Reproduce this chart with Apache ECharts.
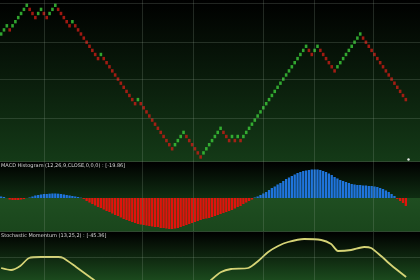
<!DOCTYPE html>
<html>
<head>
<meta charset="utf-8">
<script src="https://cdn.jsdelivr.net/npm/echarts@6/dist/echarts.min.js"></script>
<style>
  html, body { margin: 0; padding: 0; background: #000; }
  #chart_renko { width: 420px; height: 280px; }
</style>
</head>
<body>
<div id="chart_renko"></div>
<script>
  // renko brick levels, one per brick
  let brickLevels = [
    30, 31, 32, 31, 32, 33, 34, 35, 36, 37,
    36, 35, 34, 35, 36, 35, 34, 35, 36, 37,
    36, 35, 34, 33, 32, 33, 32, 31, 30, 29,
    28, 27, 26, 25, 24, 25, 24, 23, 22, 21,
    20, 19, 18, 17, 16, 15, 14, 13, 14, 13,
    12, 11, 10, 9, 8, 7, 6, 5, 4, 3,
    2, 3, 4, 5, 6, 5, 4, 3, 2, 1,
    0, 1, 2, 3, 4, 5, 6, 7, 6, 5,
    4, 5, 4, 5, 4, 5, 6, 7, 8, 9,
    10, 11, 12, 13, 14, 15, 16, 17, 18, 19,
    20, 21, 22, 23, 24, 25, 26, 27, 26, 25,
    26, 27, 26, 25, 24, 23, 22, 21, 22, 23,
    24, 25, 26, 27, 28, 29, 30, 29, 28, 27,
    26, 25, 24, 23, 22, 21, 20, 19, 18, 17,
    16, 15, 14
  ]

  // MACD histogram, one bar per brick
  let macdHist = [
    3.8, 2.5, 0, -3.8, -5, -5, -5, -3.8, -2.5, 0,
    1.3, 3.8, 6.3, 7.5, 8.8, 10, 10, 10.8, 11.3, 11.3,
    10.8, 10, 8.8, 7.5, 6.3, 5, 3.8, 2.5, 0.8, -2.5,
    -7.5, -11.3, -15, -18.8, -22.5, -25, -28.8, -32.5, -35, -38.8,
    -42.5, -45, -48.8, -52.5, -55, -57.5, -60, -62.5, -65, -66.3,
    -67.5, -68.8, -70, -71.3, -72.5, -72.5, -75, -75, -76.3, -77.5,
    -77.5, -76.3, -75, -72.5, -70, -67.5, -65, -62.5, -60, -57.5,
    -55, -52.5, -51.3, -50, -47.5, -45, -42.5, -40, -37.5, -35,
    -32.5, -30, -26.3, -22.5, -20, -15, -11.3, -7.5, -3.8, 1.3,
    3.8, 7.5, 11.3, 15, 20, 25, 28.8, 33.8, 37.5, 42.5,
    47.5, 51.3, 55, 58.8, 62.5, 65, 67.5, 68.8, 70, 71.3,
    71.3, 71.3, 70, 67.5, 65, 61.3, 57.5, 52.5, 48.8, 45,
    42.5, 40, 37.5, 35, 33.8, 32.5, 32.5, 31.3, 31.3, 30,
    30, 28.8, 27.5, 25, 22.5, 18.8, 15, 10, 5, -2.5,
    -7.5, -12.5, -19.9
  ]

  // stochastic momentum, sampled along the brick index
  let stochIdx = [0, 3.5, 6.7, 9.8, 14, 20, 21.8, 26.3, 31.6, 38.6, 52.6, 66.7, 73.7, 77.2, 80.7,
    86.7, 90.2, 93.7, 97.2, 100.7, 106.3, 112.3, 115.8, 118.2, 122.8, 127.4, 129.8, 133.3, 136.8, 142.1]
  let stochVal = [16.8, 14.4, 19.2, 28.8, 30, 30, 28.8, 18, 4.8, -12, -33.6, -21.6, 2.4, 12, 15.6,
    16.8, 25.2, 36, 43.2, 48, 51.6, 50.4, 45.6, 37.2, 38.4, 42, 40.8, 31.2, 20.4, 6]

  // grid lines
  let vGrid = [15.1, 49.5, 67.4, 91.9, 109.8, 130.5]
  let hGridRenko = [9.5, 19, 28, 37.6]

  let macdTitle = 'MACD Histogram (12,26,9,CLOSE,0,0,0) : [-19.86]'
  let stochTitle = 'Stochastic Momentum (13,25,2) : [-45.36]'

  let upBricks = []
  let downBricks = []
  brickLevels.forEach((lv, i) => {
    if (i === 0 || lv > brickLevels[i - 1]) upBricks.push([i, lv])
    else downBricks.push([i, lv])
  })

  let gridStyle = { color: 'rgba(150,170,150,0.22)', width: 1, type: 'solid' }
  let vLines = vGrid.map((v) => { return { xAxis: v } })

  function gradient (top, bottom) {
    return new echarts.graphic.LinearGradient(0, 0, 0, 1, [
      { offset: 0, color: top },
      { offset: 1, color: bottom }
    ])
  }

  let chart = echarts.init(document.getElementById('chart_renko'))
  let xRange = { min: -0.4, max: 146.97 }

  let options = {
    animation: false,
    backgroundColor: '#000',
    graphic: [
      { type: 'rect', z: -10, shape: { x: 0, y: 0, width: 420, height: 162 }, style: { fill: gradient('#000000', '#143a17') } },
      { type: 'rect', z: -10, shape: { x: 0, y: 162, width: 420, height: 36 }, style: { fill: gradient('#000000', '#0f2e12') } },
      { type: 'rect', z: -10, shape: { x: 0, y: 198, width: 420, height: 33 }, style: { fill: gradient('#1f4e21', '#1a461c') } },
      { type: 'rect', z: -10, shape: { x: 0, y: 232, width: 420, height: 48 }, style: { fill: gradient('#000000', '#1b4a1d') } },
      { type: 'line', z: -5, shape: { x1: 0, y1: 161.5, x2: 420, y2: 161.5 }, style: { stroke: '#2f4a30', lineWidth: 1 } },
      { type: 'line', z: -5, shape: { x1: 0, y1: 231.5, x2: 420, y2: 231.5 }, style: { stroke: '#2f4a30', lineWidth: 1 } },
      { type: 'circle', z: 20, shape: { cx: 408.5, cy: 159.5, r: 1.2 }, style: { fill: '#e8e8e8' } }
    ],
    title: [
      { text: macdTitle, left: 1, top: 163, padding: 0, textStyle: { color: '#d8d8d8', fontSize: 5, fontWeight: 'normal', fontFamily: 'DejaVu Sans' } },
      { text: stochTitle, left: 1, top: 233, padding: 0, textStyle: { color: '#d8d8d8', fontSize: 5, fontWeight: 'normal', fontFamily: 'DejaVu Sans' } }
    ],
    grid: [
      { left: 0, top: 0, width: 420, height: 162 },
      { left: 0, top: 162, width: 420, height: 69 },
      { left: 0, top: 232, width: 420, height: 48 }
    ],
    xAxis: [0, 1, 2].map((g) => {
      return { type: 'value', gridIndex: g, min: xRange.min, max: xRange.max, show: false }
    }),
    yAxis: [
      { type: 'value', gridIndex: 0, min: -1.22, max: 38.29, show: false },
      { type: 'value', gridIndex: 1, min: -82.5, max: 90, show: false },
      { type: 'value', gridIndex: 2, min: 2.4, max: 60, show: false }
    ],
    series: [
      {
        name: 'up',
        type: 'scatter',
        xAxisIndex: 0,
        yAxisIndex: 0,
        symbol: 'rect',
        symbolSize: [2.6, 3.4],
        itemStyle: { color: '#3ccc3a' },
        data: upBricks,
        markLine: {
          silent: true,
          symbol: 'none',
          label: { show: false },
          lineStyle: gridStyle,
          data: vLines.concat(hGridRenko.map((v) => { return { yAxis: v } }))
        }
      },
      {
        name: 'down',
        type: 'scatter',
        xAxisIndex: 0,
        yAxisIndex: 0,
        symbol: 'rect',
        symbolSize: [2.6, 3.4],
        itemStyle: { color: '#c81d15' },
        data: downBricks
      },
      {
        name: 'macd',
        type: 'bar',
        xAxisIndex: 1,
        yAxisIndex: 1,
        barWidth: 2.3,
        data: macdHist.map((v, i) => {
          return { value: [i, v], itemStyle: { color: v >= 0 ? '#1f74dc' : '#e0140c' } }
        }),
        markLine: {
          silent: true,
          symbol: 'none',
          label: { show: false },
          lineStyle: gridStyle,
          data: vLines
        }
      },
      {
        name: 'stoch',
        type: 'line',
        xAxisIndex: 2,
        yAxisIndex: 2,
        smooth: 0.25,
        clip: true,
        showSymbol: false,
        lineStyle: { color: '#d6d476', width: 1.8 },
        data: stochIdx.map((x, i) => [x, stochVal[i]]),
        markLine: {
          silent: true,
          symbol: 'none',
          label: { show: false },
          lineStyle: gridStyle,
          data: vLines.concat([{ yAxis: 30 }])
        }
      }
    ]
  }
  chart.setOption(options)
</script>
</body>
</html>
